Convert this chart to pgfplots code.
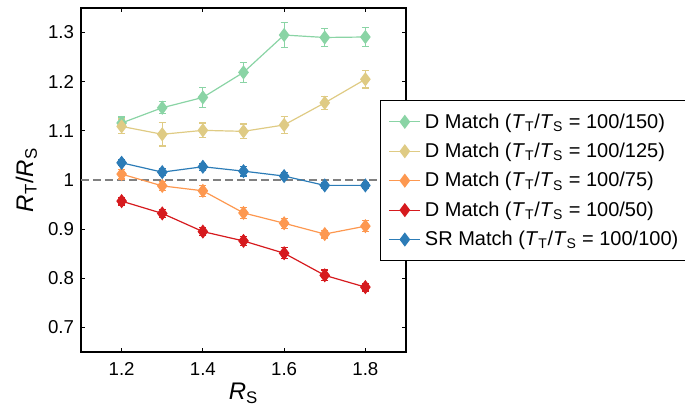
\documentclass[border=0pt]{standalone}
\usepackage{fontspec}
\setmainfont{Liberation Sans}
\setsansfont{Liberation Sans}
\usepackage{pgfplots}
\usepackage{pgfplotstable}
\pgfplotsset{compat=1.18}

\definecolor{cGreen}{RGB}{138,212,165}
\definecolor{cYellow}{RGB}{223,203,132}
\definecolor{cOrange}{RGB}{253,152,80}
\definecolor{cRed}{RGB}{214,26,30}
\definecolor{cBlue}{RGB}{44,124,183}

% x = R_S, y = R_T/R_S, ey = error
\pgfplotstableread{
x   y      ey
1.2 1.116  0.012
1.3 1.147  0.012
1.4 1.168  0.020
1.5 1.219  0.020
1.6 1.295  0.025
1.7 1.290  0.019
1.8 1.291  0.019
}\dmatchA
\pgfplotstableread{
x   y      ey
1.2 1.109  0.015
1.3 1.093  0.024
1.4 1.101  0.015
1.5 1.099  0.015
1.6 1.112  0.017
1.7 1.157  0.013
1.8 1.205  0.018
}\dmatchB
\pgfplotstableread{
x   y      ey
1.2 1.012  0.010
1.3 0.988  0.009
1.4 0.978  0.011
1.5 0.933  0.011
1.6 0.912  0.010
1.7 0.890  0.008
1.8 0.906  0.011
}\dmatchC
\pgfplotstableread{
x   y      ey
1.2 0.957  0.008
1.3 0.932  0.008
1.4 0.895  0.008
1.5 0.876  0.009
1.6 0.851  0.011
1.7 0.806  0.011
1.8 0.782  0.008
}\dmatchD
\pgfplotstableread{
x   y      ey
1.2 1.035  0.006
1.3 1.016  0.007
1.4 1.027  0.007
1.5 1.018  0.010
1.6 1.008  0.007
1.7 0.989  0.006
1.8 0.989  0.006
}\srmatch

\newcommand{\TT}{\textit{T}\textsubscript{T}/\textit{T}\textsubscript{S}}

\begin{document}
\begin{tikzpicture}
\begin{axis}[
  scale only axis,
  width=243.75pt, height=258pt,
  xmin=1.1, xmax=1.9, ymin=0.65, ymax=1.35,
  xtick={1.2,1.4,1.6,1.8},
  ytick={0.7,0.8,0.9,1,1.1,1.2,1.3},
  yticklabels={0.7,0.8,0.9,1,1.1,1.2,1.3},
  xticklabels={1.2,1.4,1.6,1.8},
  tick align=inside,
  major tick length=3pt,
  axis line style={line width=1pt},
  tick style={black, line width=0.6pt},
  tick label style={font=\fontsize{14}{14}\selectfont},
  xticklabel style={yshift=-4.5pt},
  yticklabel style={xshift=-1.7pt},
  xlabel={\textit{R}\textsubscript{S}},
  ylabel={\textit{R}\textsubscript{T}/\textit{R}\textsubscript{S}},
  label style={font=\fontsize{18}{18}\selectfont},
  xlabel style={at={(rel axis cs:0.5,0)}, anchor=base, yshift=-36pt},
  ylabel style={at={(rel axis cs:0,0.5)}, anchor=center, yshift=41pt},
  legend style={at={(rel axis cs:0.92,0.7326)}, anchor=north west,
    font=\fontsize{15}{15}\selectfont, draw=black, line width=1pt,
    fill=white, row sep=7.7pt, inner xsep=6pt, inner ysep=8.7pt,
    nodes={inner xsep=3pt, inner ysep=1pt}},
  legend cell align=left,
  legend image code/.code={
    \draw[mark repeat=2, mark phase=2]
      plot coordinates {(0cm,0cm) (0.41cm,0cm) (0.82cm,0cm)};},
  every axis plot/.append style={line width=0.9pt, mark=diamond*, mark size=4.6pt},
  error bars/error bar style={line width=0.9pt},
  error bars/error mark options={rotate=90, mark size=2.7pt, line width=0.9pt},
]
\addplot[gray, dash pattern=on 6pt off 3pt, line width=0.8pt, mark=none, forget plot]
  coordinates {(1.1,1) (1.9,1)};
\addplot[cGreen, mark options={fill=cGreen}, error bars/.cd, y dir=both, y explicit]
  table[x=x, y=y, y error=ey] {\dmatchA};
\addlegendentry{D Match (\TT{} = 100/150)}
\addplot[cYellow, mark options={fill=cYellow}, error bars/.cd, y dir=both, y explicit]
  table[x=x, y=y, y error=ey] {\dmatchB};
\addlegendentry{D Match (\TT{} = 100/125)}
\addplot[cOrange, mark options={fill=cOrange}, error bars/.cd, y dir=both, y explicit]
  table[x=x, y=y, y error=ey] {\dmatchC};
\addlegendentry{D Match (\TT{} = 100/75)}
\addplot[cRed, mark options={fill=cRed}, error bars/.cd, y dir=both, y explicit]
  table[x=x, y=y, y error=ey] {\dmatchD};
\addlegendentry{D Match (\TT{} = 100/50)}
\addplot[cBlue, mark options={fill=cBlue}, error bars/.cd, y dir=both, y explicit]
  table[x=x, y=y, y error=ey] {\srmatch};
\addlegendentry{SR Match (\TT{} = 100/100)}
\coordinate (bl) at (rel axis cs:0,0);
\coordinate (tr) at (rel axis cs:1,1);
\end{axis}
% fixed page frame around the plot area
\pgfresetboundingbox
\path (bl) ++(-60.75pt,-42pt) coordinate (p1);
\path (tr) ++(209.25pt,6pt) coordinate (p2);
\useasboundingbox (p1) rectangle (p2);
\end{tikzpicture}
\end{document}
